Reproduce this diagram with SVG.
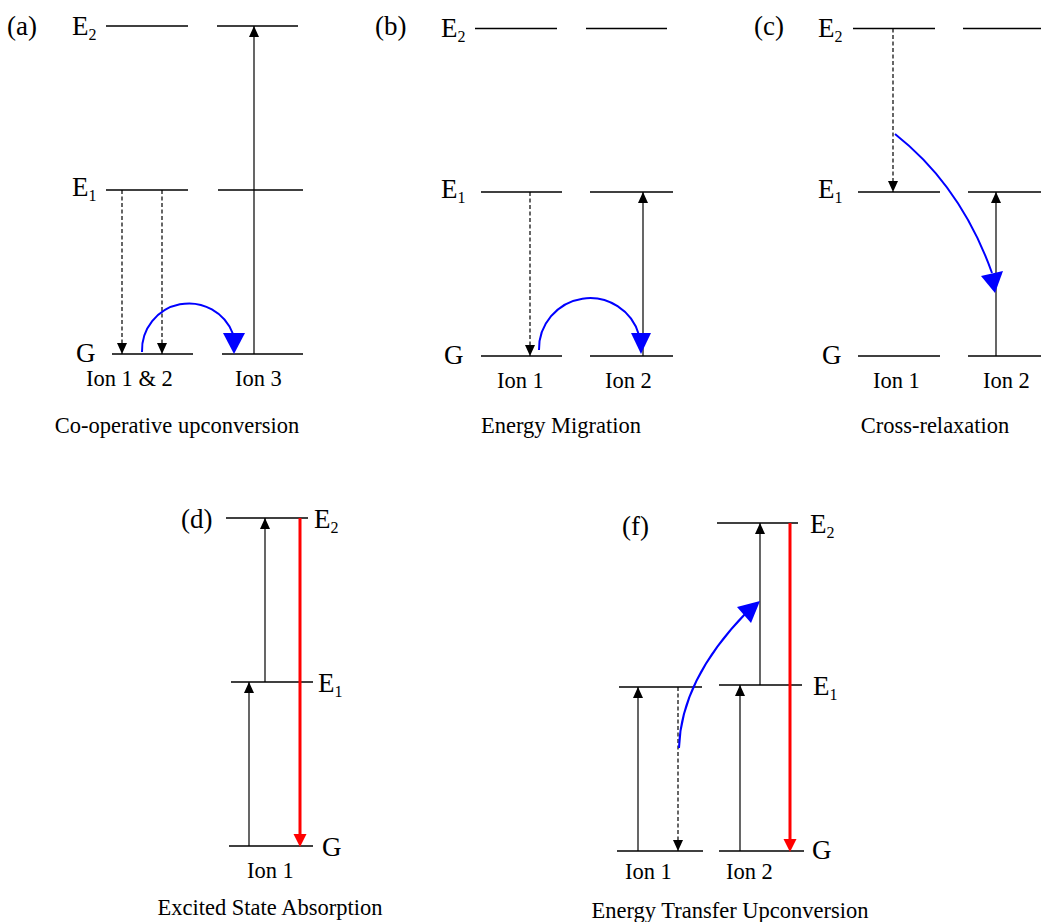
<svg xmlns="http://www.w3.org/2000/svg" width="1041" height="922" viewBox="0 0 1041 922">
<defs>
<style>
text{font-family:"Liberation Serif","Times New Roman",serif;fill:#000}
.lvl{font-size:27px}
.sub{font-size:16px}
.ion{font-size:22.5px}
.cap{font-size:22.5px;text-anchor:middle}
.lv{stroke:#000;stroke-width:1.3;fill:none}
.ar{stroke:#000;stroke-width:1.2;fill:none;marker-end:url(#ah)}
.da{stroke:#000;stroke-width:1.2;fill:none;stroke-dasharray:4,2.5;marker-end:url(#ah)}
.bl{stroke:#0000ff;stroke-width:2;fill:none}
.bh{fill:#0000ff}
.rd{stroke:#ff0000;stroke-width:3;fill:none}
.rh{fill:#ff0000}
</style>
<marker id="ah" markerUnits="userSpaceOnUse" markerWidth="12" markerHeight="12" refX="11" refY="5" orient="auto">
<path d="M0,0 L11,5 L0,10 Z" fill="#000"/>
</marker>
</defs>

<g id="panel-a">
<text class="lvl" x="7" y="35">(a)</text>
<text class="lvl" x="72" y="35">E<tspan class="sub" dy="5">2</tspan></text>
<text class="lvl" x="72" y="196">E<tspan class="sub" dy="5">1</tspan></text>
<text class="lvl" x="76" y="362">G</text>
<line class="lv" x1="106" y1="26" x2="188" y2="26"/>
<line class="lv" x1="217" y1="26" x2="298" y2="26"/>
<line class="lv" x1="106" y1="190" x2="188" y2="190"/>
<line class="lv" x1="218" y1="190" x2="303" y2="190"/>
<line class="lv" x1="112" y1="354" x2="193" y2="354"/>
<line class="lv" x1="222" y1="354" x2="303" y2="354"/>
<text class="ion" x="86" y="386">Ion 1 &amp; 2</text>
<text class="ion" x="235" y="386">Ion 3</text>
<text class="cap" x="177" y="433">Co-operative upconversion</text>
</g>

<g id="panel-b">
<text class="lvl" x="375" y="35">(b)</text>
<text class="lvl" x="441" y="37">E<tspan class="sub" dy="5">2</tspan></text>
<text class="lvl" x="441" y="198">E<tspan class="sub" dy="5">1</tspan></text>
<text class="lvl" x="444" y="364">G</text>
<line class="lv" x1="475" y1="28.5" x2="557" y2="28.5"/>
<line class="lv" x1="586" y1="28.5" x2="667" y2="28.5"/>
<line class="lv" x1="481" y1="192" x2="562" y2="192"/>
<line class="lv" x1="590" y1="192" x2="673" y2="192"/>
<line class="lv" x1="481" y1="356" x2="562" y2="356"/>
<line class="lv" x1="590" y1="356" x2="673" y2="356"/>
<text class="ion" x="497" y="388">Ion 1</text>
<text class="ion" x="605" y="388">Ion 2</text>
<text class="cap" x="561" y="433">Energy Migration</text>
</g>

<g id="panel-c">
<text class="lvl" x="754" y="35">(c)</text>
<text class="lvl" x="818" y="37">E<tspan class="sub" dy="5">2</tspan></text>
<text class="lvl" x="818" y="198">E<tspan class="sub" dy="5">1</tspan></text>
<text class="lvl" x="822" y="364">G</text>
<line class="lv" x1="853" y1="28.5" x2="935" y2="28.5"/>
<line class="lv" x1="963" y1="28.5" x2="1041" y2="28.5"/>
<line class="lv" x1="858" y1="192" x2="940" y2="192"/>
<line class="lv" x1="968" y1="192" x2="1041" y2="192"/>
<line class="lv" x1="858" y1="356" x2="940" y2="356"/>
<line class="lv" x1="968" y1="356" x2="1041" y2="356"/>
<text class="ion" x="873" y="388">Ion 1</text>
<text class="ion" x="983" y="388">Ion 2</text>
<text class="cap" x="935" y="433">Cross-relaxation</text>
</g>

<g id="panel-d">
<text class="lvl" x="181" y="528">(d)</text>
<text class="lvl" x="314" y="528">E<tspan class="sub" dy="5">2</tspan></text>
<text class="lvl" x="318" y="692">E<tspan class="sub" dy="5">1</tspan></text>
<text class="lvl" x="322" y="856">G</text>
<line class="lv" x1="226" y1="518" x2="308" y2="518"/>
<line class="lv" x1="231" y1="682" x2="313" y2="682"/>
<line class="lv" x1="229" y1="846" x2="313" y2="846"/>
<text class="ion" x="247" y="878">Ion 1</text>
<text class="cap" x="270" y="915">Excited State Absorption</text>
</g>

<g id="panel-f">
<text class="lvl" x="622" y="535">(f)</text>
<text class="lvl" x="810" y="533">E<tspan class="sub" dy="5">2</tspan></text>
<text class="lvl" x="813" y="695">E<tspan class="sub" dy="5">1</tspan></text>
<text class="lvl" x="812" y="859">G</text>
<line class="lv" x1="717" y1="523" x2="798" y2="523"/>
<line class="lv" x1="619" y1="687" x2="702" y2="687"/>
<line class="lv" x1="719" y1="685" x2="802" y2="685"/>
<line class="lv" x1="617" y1="851" x2="703" y2="851"/>
<line class="lv" x1="719" y1="851" x2="804" y2="851"/>
<text class="ion" x="625" y="879">Ion 1</text>
<text class="ion" x="726" y="879">Ion 2</text>
<text class="cap" x="730" y="918">Energy Transfer Upconversion</text>
</g>

<g id="connectors">
<line class="da" x1="122" y1="190" x2="122" y2="354"/>
<line class="da" x1="162" y1="190" x2="162" y2="354"/>
<line class="ar" x1="254" y1="354" x2="254" y2="26"/>
<path class="bl" d="M142,352 A47,47 0 0 1 233,334"/>
<polygon class="bh" points="234,354 223,333 245,333"/>
<line class="da" x1="530" y1="192" x2="530" y2="356"/>
<line class="ar" x1="643" y1="356" x2="643" y2="192"/>
<path class="bl" d="M539,350 A51,51 0 0 1 639,335"/>
<polygon class="bh" points="641,354 631,333 651,333"/>
<line class="da" x1="893" y1="28.5" x2="893" y2="192"/>
<line class="ar" x1="996" y1="356" x2="996" y2="192"/>
<path class="bl" d="M895,134 Q961,186 992,273"/>
<polygon class="bh" points="995,293 981,276 1003,271"/>
<line class="ar" x1="249" y1="846" x2="249" y2="682"/>
<line class="ar" x1="265" y1="682" x2="265" y2="518"/>
<line class="rd" x1="300" y1="518" x2="300" y2="836"/>
<polygon class="rh" points="300,847 293.5,834 306.5,834"/>
<line class="ar" x1="638" y1="851" x2="638" y2="687"/>
<line class="da" x1="678" y1="687" x2="678" y2="851"/>
<line class="ar" x1="740" y1="851" x2="740" y2="685"/>
<line class="ar" x1="760" y1="685" x2="760" y2="523"/>
<line class="rd" x1="790" y1="523" x2="790" y2="841"/>
<polygon class="rh" points="790,852 783.5,839 796.5,839"/>
<path class="bl" d="M679,748 Q681,680 746,613"/>
<polygon class="bh" points="760,601 737,607 751,623"/>
</g>
</svg>
